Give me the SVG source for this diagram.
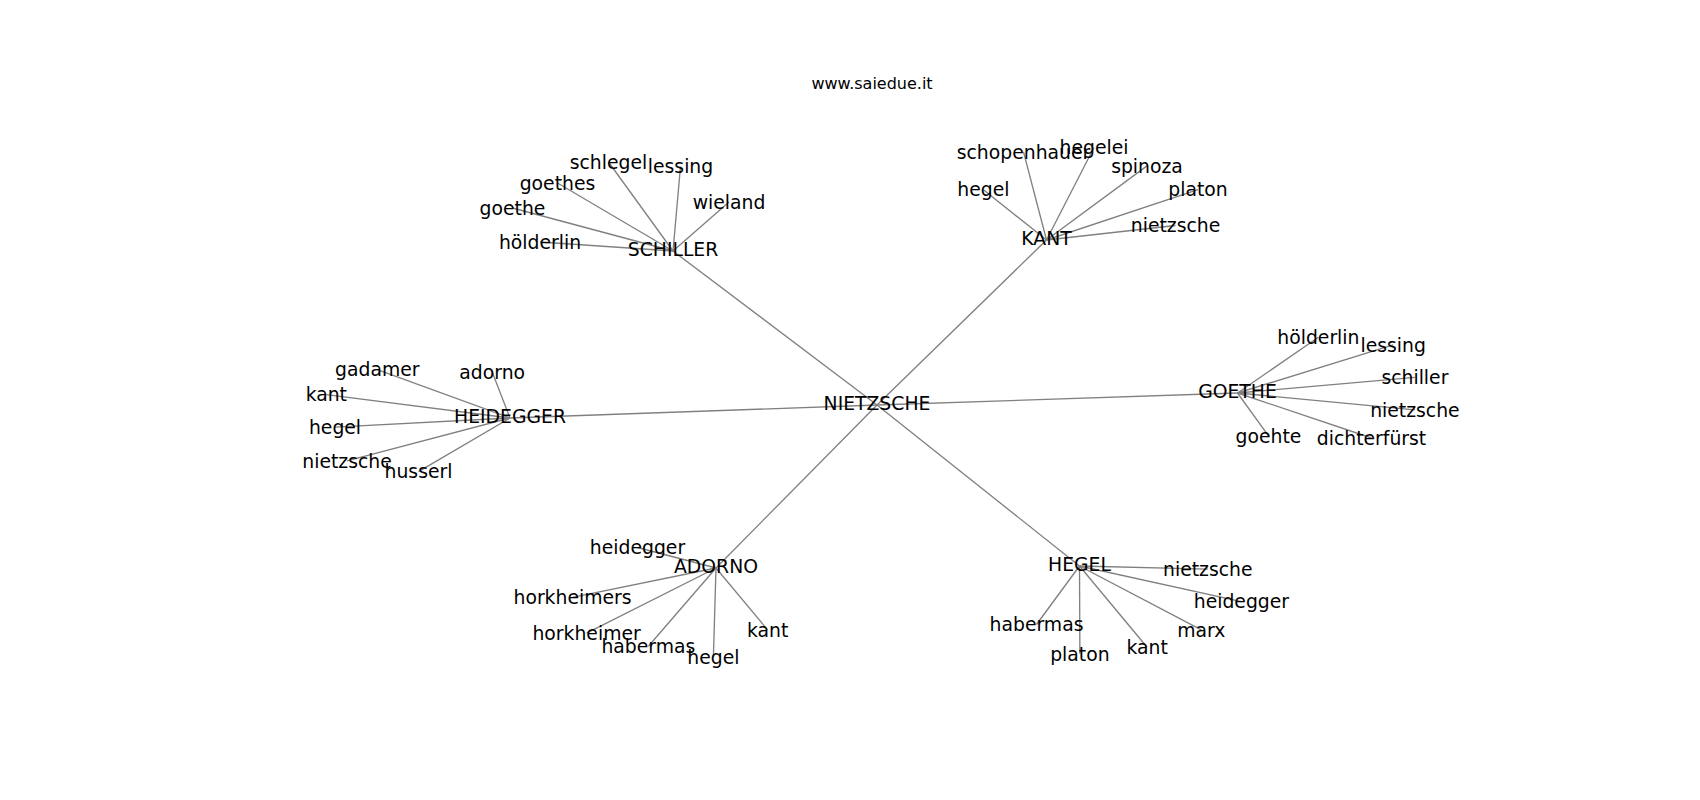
<svg xmlns="http://www.w3.org/2000/svg" width="1700" height="800" viewBox="0 0 1700 800">
<style>
.e{stroke:#808080;stroke-width:1.33;fill:none}
text{font-family:"DejaVu Sans","Liberation Sans",sans-serif;font-size:18.8px;fill:#000;text-anchor:middle}
.t{font-size:16px}
.l{transform:translateY(1.5px)}
</style>
<rect width="1700" height="800" fill="#fff"/>
<g id="connectors">
<line class="e" x1="877" y1="405" x2="673" y2="251"/>
<line class="e" x1="877" y1="405" x2="1046.5" y2="240"/>
<line class="e" x1="877" y1="405" x2="510" y2="418"/>
<line class="e" x1="877" y1="405" x2="1237.5" y2="393"/>
<line class="e" x1="877" y1="405" x2="716" y2="568"/>
<line class="e" x1="877" y1="405" x2="1079.5" y2="566"/>
<line class="e" x1="673" y1="251" x2="540" y2="242"/>
<line class="e" x1="673" y1="251" x2="512.5" y2="208"/>
<line class="e" x1="673" y1="251" x2="557.5" y2="183"/>
<line class="e" x1="673" y1="251" x2="608.5" y2="162"/>
<line class="e" x1="673" y1="251" x2="680.5" y2="166.5"/>
<line class="e" x1="673" y1="251" x2="729" y2="202"/>
<line class="e" x1="1046.5" y1="240" x2="983.4" y2="189.7"/>
<line class="e" x1="1046.5" y1="240" x2="1023.5" y2="151.8"/>
<line class="e" x1="1046.5" y1="240" x2="1094" y2="147.5"/>
<line class="e" x1="1046.5" y1="240" x2="1147" y2="165.9"/>
<line class="e" x1="1046.5" y1="240" x2="1198" y2="189.7"/>
<line class="e" x1="1046.5" y1="240" x2="1175.5" y2="225.5"/>
<line class="e" x1="510" y1="418" x2="377.3" y2="369.7"/>
<line class="e" x1="510" y1="418" x2="492.2" y2="371.9"/>
<line class="e" x1="510" y1="418" x2="326.3" y2="394.6"/>
<line class="e" x1="510" y1="418" x2="335" y2="427.2"/>
<line class="e" x1="510" y1="418" x2="347" y2="460.8"/>
<line class="e" x1="510" y1="418" x2="418.5" y2="471.6"/>
<line class="e" x1="1237.5" y1="393" x2="1318.4" y2="337.2"/>
<line class="e" x1="1237.5" y1="393" x2="1393.2" y2="344.8"/>
<line class="e" x1="1237.5" y1="393" x2="1414.9" y2="377.3"/>
<line class="e" x1="1237.5" y1="393" x2="1414.9" y2="409.8"/>
<line class="e" x1="1237.5" y1="393" x2="1371.5" y2="438"/>
<line class="e" x1="1237.5" y1="393" x2="1268.5" y2="435.8"/>
<line class="e" x1="716" y1="568" x2="637.5" y2="547.5"/>
<line class="e" x1="716" y1="568" x2="572.5" y2="597.4"/>
<line class="e" x1="716" y1="568" x2="586.6" y2="633.2"/>
<line class="e" x1="716" y1="568" x2="648.4" y2="646.2"/>
<line class="e" x1="716" y1="568" x2="713.4" y2="657"/>
<line class="e" x1="716" y1="568" x2="767.6" y2="629.9"/>
<line class="e" x1="1079.5" y1="566" x2="1207.8" y2="569.2"/>
<line class="e" x1="1079.5" y1="566" x2="1241.4" y2="601.7"/>
<line class="e" x1="1079.5" y1="566" x2="1201.3" y2="629.9"/>
<line class="e" x1="1079.5" y1="566" x2="1147.1" y2="647.3"/>
<line class="e" x1="1079.5" y1="566" x2="1079.9" y2="653.8"/>
<line class="e" x1="1079.5" y1="566" x2="1036.5" y2="624.5"/>
</g>
<g id="title"><text class="t" x="872" y="88.5">www.saiedue.it</text></g>
<g id="n-nietzsche"><text x="877" y="410.3">NIETZSCHE</text></g>
<g id="n-schiller"><text x="673" y="256">SCHILLER</text></g>
<g id="n-kant"><text x="1046.5" y="245.3">KANT</text></g>
<g id="n-heidegger"><text x="510" y="423.1">HEIDEGGER</text></g>
<g id="n-goethe"><text x="1237.5" y="398.2">GOETHE</text></g>
<g id="n-adorno"><text x="716" y="573">ADORNO</text></g>
<g id="n-hegel"><text x="1079.5" y="571">HEGEL</text></g>
<g id="schiller-hoelderlin"><text x="540" y="248.5">hölderlin</text></g>
<g id="schiller-goethe"><text x="512.5" y="214.5">goethe</text></g>
<g id="schiller-goethes"><text x="557.5" y="189.5">goethes</text></g>
<g id="schiller-schlegel"><text x="608.5" y="168.8">schlegel</text></g>
<g id="schiller-lessing"><text x="680.5" y="173.2">lessing</text></g>
<g id="schiller-wieland"><text x="729" y="208.8">wieland</text></g>
<g id="kant-hegel"><text x="983.4" y="196.4">hegel</text></g>
<g id="kant-schopenhauer"><text x="1023.5" y="158.5">schopenhauer</text></g>
<g id="kant-hegelei"><text x="1094" y="154.2">hegelei</text></g>
<g id="kant-spinoza"><text x="1147" y="172.6">spinoza</text></g>
<g id="kant-platon"><text x="1198" y="196.4">platon</text></g>
<g id="kant-nietzsche"><text x="1175.5" y="232.2">nietzsche</text></g>
<g id="heidegger-gadamer"><text x="377.3" y="376.4">gadamer</text></g>
<g id="heidegger-adorno"><text x="492.2" y="378.6">adorno</text></g>
<g id="heidegger-kant"><text x="326.3" y="401.3">kant</text></g>
<g id="heidegger-hegel"><text x="335" y="433.9">hegel</text></g>
<g id="heidegger-nietzsche"><text x="347" y="467.5">nietzsche</text></g>
<g id="heidegger-husserl"><text x="418.5" y="478.3">husserl</text></g>
<g id="goethe-hoelderlin"><text x="1318.4" y="343.9">hölderlin</text></g>
<g id="goethe-lessing"><text x="1393.2" y="351.5">lessing</text></g>
<g id="goethe-schiller"><text x="1414.9" y="384">schiller</text></g>
<g id="goethe-nietzsche"><text x="1414.9" y="416.5">nietzsche</text></g>
<g id="goethe-dichterfuerst"><text x="1371.5" y="444.7">dichterfürst</text></g>
<g id="goethe-goehte"><text x="1268.5" y="442.5">goehte</text></g>
<g id="adorno-heidegger"><text x="637.5" y="554.2">heidegger</text></g>
<g id="adorno-horkheimers"><text x="572.5" y="604.1">horkheimers</text></g>
<g id="adorno-horkheimer"><text x="586.6" y="639.9">horkheimer</text></g>
<g id="adorno-habermas"><text x="648.4" y="652.9">habermas</text></g>
<g id="adorno-hegel"><text x="713.4" y="663.7">hegel</text></g>
<g id="adorno-kant"><text x="767.6" y="636.6">kant</text></g>
<g id="hegel-nietzsche"><text x="1207.8" y="575.9">nietzsche</text></g>
<g id="hegel-heidegger"><text x="1241.4" y="608.4">heidegger</text></g>
<g id="hegel-marx"><text x="1201.3" y="636.6">marx</text></g>
<g id="hegel-kant"><text x="1147.1" y="654">kant</text></g>
<g id="hegel-platon"><text x="1079.9" y="660.5">platon</text></g>
<g id="hegel-habermas"><text x="1036.5" y="631.2">habermas</text></g>
</svg>
